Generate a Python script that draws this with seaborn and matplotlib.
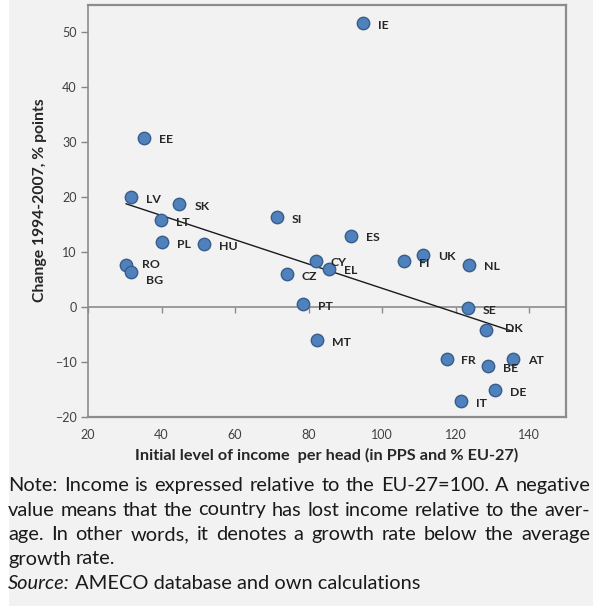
import matplotlib
matplotlib.use("Agg")
import matplotlib.pyplot as plt
import seaborn as sns
import pandas as pd
from matplotlib.patches import Rectangle

countries = ["IE", "EE", "LV", "SK", "LT", "PL", "HU", "RO", "BG", "SI", "CZ", "PT", "CY",
             "EL", "MT", "ES", "FI", "UK", "NL", "SE", "DK", "FR", "BE", "AT", "DE", "IT"]
income_1994 = [94.8, 35.2, 31.6, 44.8, 39.8, 40.1, 51.6, 30.3, 31.6, 71.3, 74.1, 78.4, 82.0,
               85.6, 82.4, 91.6, 105.9, 111.2, 123.6, 123.3, 128.3, 117.5, 128.7, 135.5, 130.8, 121.5]
change_94_07 = [51.7, 30.8, 20.0, 18.7, 15.8, 11.8, 11.4, 7.65, 6.4, 16.3, 5.9, 0.5, 8.4,
                6.9, -6.1, 12.9, 8.3, 9.5, 7.65, -0.3, -4.3, -9.5, -10.8, -9.5, -15.2, -17.1]
x_ticks = [20, 40, 60, 80, 100, 120, 140]
y_ticks = [-20, -10, 0, 10, 20, 30, 40, 50]
x_label = "Initial level of income  per head (in PPS and % EU-27)"
y_label = "Change 1994-2007, % points"
note_lines = [
    "Note: Income is expressed relative to the EU-27=100. A negative",
    "value means that the country has lost income relative to the aver-",
    "age. In other words, it denotes a growth rate below the average",
    "growth rate.",
]
source_italic = "Source:"
source_rest = " AMECO database and own calculations"

df = pd.DataFrame({"country": countries, "x": income_1994, "y": change_94_07})

sns.set_theme(style="white")
plt.rcParams["font.family"] = ["Lato", "DejaVu Sans"]

W, H = 598, 606
fig = plt.figure(figsize=(W / 100, H / 100), dpi=100)
fig.patch.set_facecolor("white")
bg = Rectangle((9 / W, 0), (593 - 9) / W, 1, transform=fig.transFigure,
               facecolor="#F2F2F2", edgecolor="none", zorder=-10)
fig.patches.append(bg)

ax = fig.add_axes([88 / W, 1 - 416.5 / H, (566 - 88) / W, (416.5 - 5) / H])
ax.set_zorder(5)
ax.set_facecolor("#F2F2F2")

sns.regplot(data=df, x="x", y="y", ax=ax, scatter=False, ci=None, truncate=True,
            line_kws=dict(color="#1a1a1a", lw=1.0, zorder=2))
sns.scatterplot(data=df, x="x", y="y", ax=ax, s=80, color="#4F81BD",
                edgecolor="#385D8A", linewidth=1.0, zorder=3, legend=False)

special = {"BG": (15, -9), "DK": (19, 2), "RO": (16, 0), "IT": (15, -3)}
for c, xv, yv in zip(countries, income_1994, change_94_07):
    dx, dy = special.get(c, (15, -2))
    ax.annotate(c, (xv, yv), xytext=(dx, dy), textcoords="offset pixels",
                ha="left", va="center", fontsize=8.8, fontweight="bold", color="#262626",
                zorder=4)

ax.set_xlim(20, 150)
ax.set_ylim(-20, 55)
ax.set_xticks(x_ticks)
ax.set_yticks(y_ticks)
ax.tick_params(axis="x", length=0, pad=9, labelsize=9, labelcolor="#404040")
ax.tick_params(axis="y", length=5, width=1, color="#868686", direction="out",
               pad=3, labelsize=9, labelcolor="#404040", left=True)
for s in ax.spines.values():
    s.set_color("#8C8C8C")
    s.set_linewidth(1.6)
ax.spines["left"].set_linewidth(1.2)

# horizontal axis line at zero with tick marks
ax.axhline(0, color="#8C8C8C", lw=1.2, zorder=1)
loc0 = (0 - ax.get_ylim()[0]) / (ax.get_ylim()[1] - ax.get_ylim()[0])
sec = ax.secondary_xaxis(loc0)
sec.xaxis.set_ticks_position("bottom")
sec.set_xticks(x_ticks, labels=[""] * len(x_ticks))
sec.tick_params(axis="x", length=4, width=1, color="#8C8C8C", direction="out")
for sp in sec.spines.values():
    sp.set_visible(False)

ax.set_xlabel("")
ax.set_ylabel("")
fig.text(327 / W, 1 - 455 / H, x_label, ha="center", va="center", fontsize=11.7,
         fontweight="bold", color="#262626")
fig.text(40 / W, 1 - 200 / H, y_label, ha="center", va="center", rotation=90,
         fontsize=11.3, fontweight="bold", color="#262626")

# justified note text
fig.canvas.draw()
renderer = fig.canvas.get_renderer()
left_px, right_px = 8, 590
probe = fig.text(0, 0, note_lines[1], fontsize=10)
fs = 10 * (right_px - left_px - 4) / probe.get_window_extent(renderer).width
probe.remove()
baselines = [491, 515.5, 540, 564.5]
for i, (line, yy) in enumerate(zip(note_lines, baselines)):
    words = line.split(" ")
    texts = [fig.text(0, 1 - yy / H, w, ha="left", va="baseline", fontsize=fs, color="#1a1a1a")
             for w in words]
    widths = [t.get_window_extent(renderer).width for t in texts]
    if i < 3 and len(words) > 1:
        gap = (right_px - left_px - sum(widths)) / (len(words) - 1)
    else:
        sp = fig.text(0, 0, "a a", fontsize=fs)
        sp2 = fig.text(0, 0, "aa", fontsize=fs)
        gap = sp.get_window_extent(renderer).width - sp2.get_window_extent(renderer).width
        sp.remove(); sp2.remove()
    xpos = left_px
    for t, w in zip(texts, widths):
        t.set_x(xpos / W)
        xpos += w + gap

ys = 589
t1 = fig.text(left_px / W, 1 - ys / H, source_italic, ha="left", va="baseline", fontsize=fs,
              style="italic", color="#1a1a1a")
w1 = t1.get_window_extent(renderer).width
fig.text((left_px + w1) / W, 1 - ys / H, source_rest, ha="left", va="baseline", fontsize=fs,
         color="#1a1a1a")

fig.savefig("out.png", dpi=100, facecolor=fig.get_facecolor())
